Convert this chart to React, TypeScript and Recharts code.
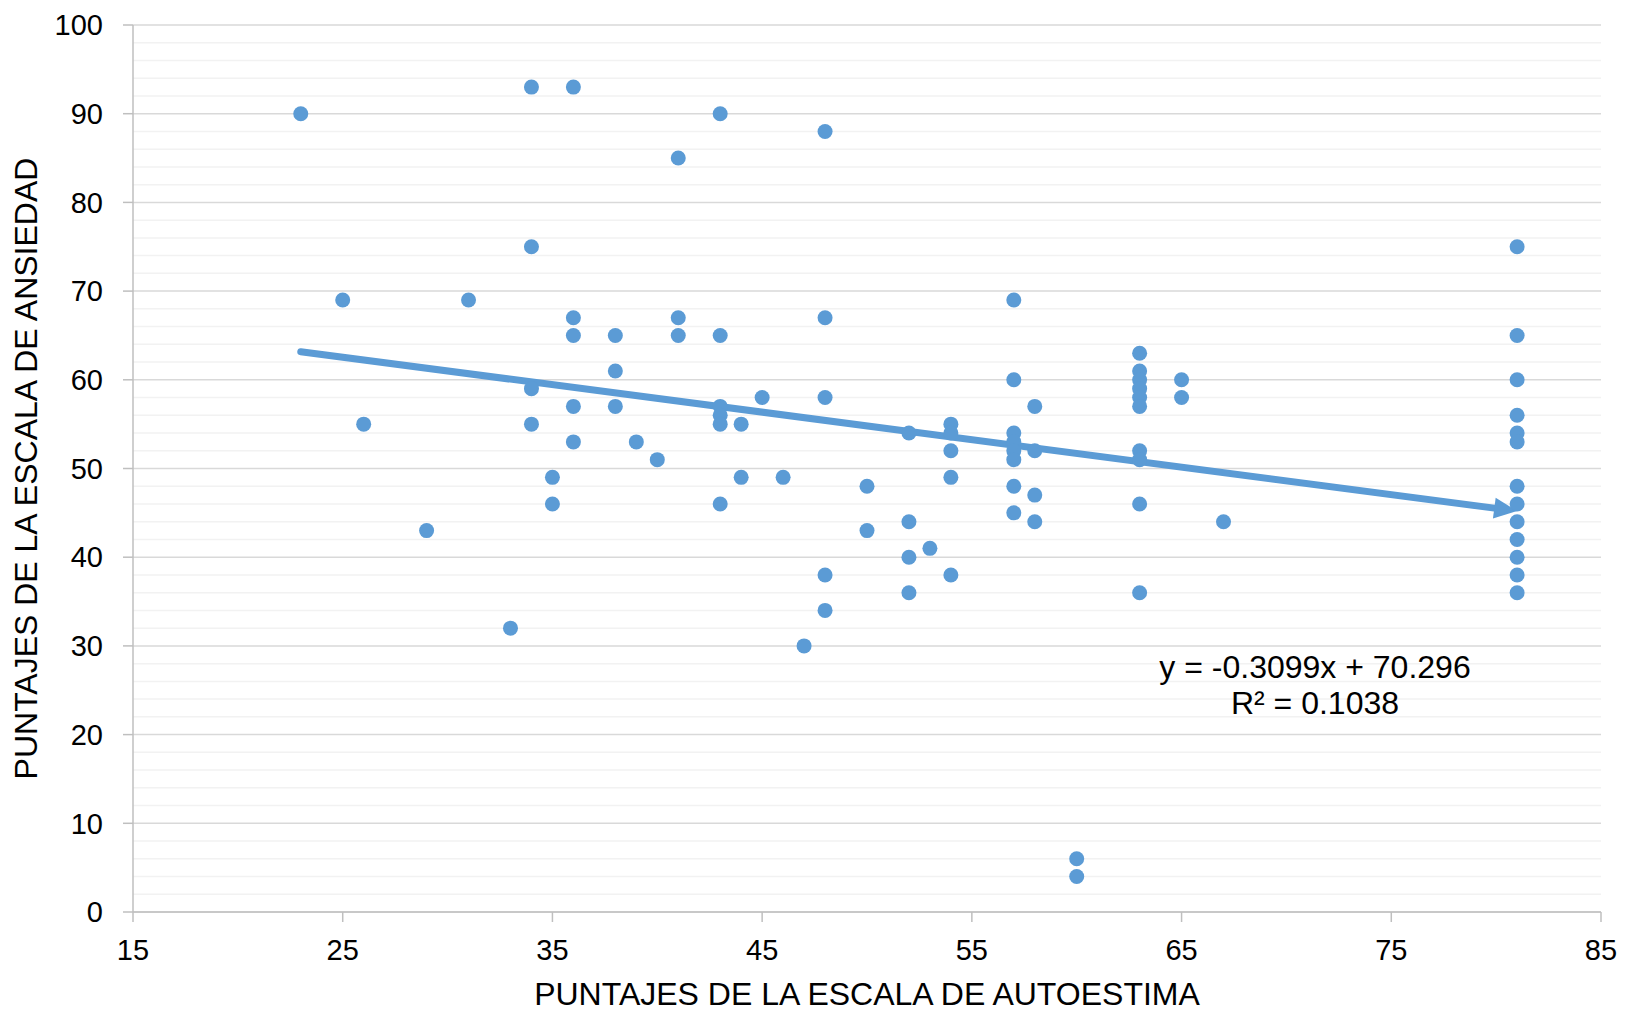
import {
  CartesianGrid,
  ReferenceLine,
  Scatter,
  ScatterChart,
  XAxis,
  YAxis,
} from "recharts";

// puntajes de autoestima (x) y ansiedad (y)
const autoestima = [
  23, 25, 26, 29, 31, 33, 34, 34, 34, 34, 35, 35, 36, 36, 36, 36, 36, 38, 38, 38,
  39, 40, 41, 41, 41, 43, 43, 43, 43, 43, 43, 44, 44, 45, 46, 47, 48, 48, 48, 48,
  48, 50, 50, 52, 52, 52, 52, 53, 54, 54, 54, 54, 54, 57, 57, 57, 57, 57, 57, 57,
  57, 58, 58, 58, 58, 60, 60, 63, 63, 63, 63, 63, 63, 63, 63, 63, 63, 65, 65, 67,
  81, 81, 81, 81, 81, 81, 81, 81, 81, 81, 81, 81, 81,
];
const ansiedad = [
  90, 69, 55, 43, 69, 32, 93, 75, 59, 55, 49, 46, 93, 67, 65, 57, 53, 65, 61, 57,
  53, 51, 85, 67, 65, 90, 65, 57, 56, 55, 46, 55, 49, 58, 49, 30, 88, 67, 58, 38,
  34, 48, 43, 54, 44, 40, 36, 41, 55, 54, 52, 49, 38, 69, 60, 54, 53, 52, 51, 48,
  45, 57, 52, 47, 44, 6, 4, 63, 61, 60, 59, 58, 57, 52, 51, 46, 36, 60, 58, 44,
  75, 65, 60, 56, 54, 53, 48, 46, 44, 42, 40, 38, 36,
];

// linear trend (y = -0.3099x + 70.296), ends as drawn
const trendX = [23, 81];
const trendY = [63.17, 45.2];

const xTicks = [15, 25, 35, 45, 55, 65, 75, 85];
const yTicks = [0, 10, 20, 30, 40, 50, 60, 70, 80, 90, 100];
const yMinor = [
  2, 4, 6, 8, 12, 14, 16, 18, 22, 24, 26, 28, 32, 34, 36, 38, 42, 44, 46, 48, 52,
  54, 56, 58, 62, 64, 66, 68, 72, 74, 76, 78, 82, 84, 86, 88, 92, 94, 96, 98,
];

const equation = "y = -0.3099x + 70.296";
const rSquared = "R² = 0.1038";

const points = autoestima.map((x, i) => ({ x, y: ansiedad[i] }));

const BLUE = "#5b9bd5";
const FONT = '"Liberation Sans", Arial, sans-serif';

function Dot(props: any) {
  return <circle cx={props.cx} cy={props.cy} r={7.5} fill={BLUE} />;
}

function TrendArrow(props: any) {
  const { x1, y1, x2, y2 } = props;
  if ([x1, y1, x2, y2].some((v) => v == null || isNaN(v))) return null;
  const dx = x2 - x1;
  const dy = y2 - y1;
  const len = Math.sqrt(dx * dx + dy * dy);
  const ux = dx / len;
  const uy = dy / len;
  const head = 23;
  const half = 10.5;
  const bx = x2 - ux * head;
  const by = y2 - uy * head;
  return (
    <g>
      <line
        x1={x1}
        y1={y1}
        x2={bx + ux * 2}
        y2={by + uy * 2}
        stroke={BLUE}
        strokeWidth={7}
        strokeLinecap="round"
      />
      <polygon
        points={`${x2},${y2} ${bx - uy * half},${by + ux * half} ${bx + uy * half},${by - ux * half}`}
        fill={BLUE}
      />
    </g>
  );
}

function XTitle(props: any) {
  const vb = props.viewBox || {};
  return (
    <text
      x={vb.x + vb.width / 2}
      y={1005}
      textAnchor="middle"
      fontFamily={FONT}
      fontSize={32}
      fill="#000"
    >
      PUNTAJES DE LA ESCALA DE AUTOESTIMA
    </text>
  );
}

function YTitle(props: any) {
  const vb = props.viewBox || {};
  const cy = vb.y + vb.height / 2;
  const cx = 37;
  return (
    <text
      x={cx}
      y={cy}
      transform={`rotate(-90, ${cx}, ${cy})`}
      textAnchor="middle"
      fontFamily={FONT}
      fontSize={32}
      fill="#000"
    >
      PUNTAJES DE LA ESCALA DE ANSIEDAD
    </text>
  );
}

export default function App() {
  return (
    <div
      style={{
        position: "absolute",
        left: 0,
        top: 0,
        width: 1625,
        height: 1013,
        background: "#fff",
        fontFamily: FONT,
      }}
    >
      <ScatterChart
        width={1625}
        height={1013}
        margin={{ top: 25, right: 24, bottom: 0, left: 0 }}
      >
        <CartesianGrid
          vertical={false}
          horizontalValues={yMinor}
          stroke="#f2f2f2"
          strokeWidth={1.5}
        />
        <CartesianGrid
          vertical={false}
          horizontalValues={yTicks}
          stroke="#d9d9d9"
          strokeWidth={1.5}
        />
        <XAxis
          type="number"
          dataKey="x"
          domain={[15, 85]}
          ticks={xTicks}
          interval={0}
          height={101}
          tickSize={10}
          tickMargin={17}
          axisLine={{ stroke: "#bfbfbf", strokeWidth: 1.5 }}
          tickLine={{ stroke: "#bfbfbf", strokeWidth: 1.5 }}
          tick={{ fill: "#000", fontSize: 29, fontFamily: FONT }}
          label={{ content: <XTitle /> }}
        />
        <YAxis
          type="number"
          dataKey="y"
          domain={[0, 100]}
          ticks={yTicks}
          interval={0}
          width={133}
          tickSize={10}
          tickMargin={20}
          axisLine={{ stroke: "#bfbfbf", strokeWidth: 1.5 }}
          tickLine={{ stroke: "#bfbfbf", strokeWidth: 1.5 }}
          tick={{ fill: "#000", fontSize: 29, fontFamily: FONT }}
          label={{ content: <YTitle /> }}
        />
        <Scatter
          data={points}
          fill={BLUE}
          shape={<Dot />}
          isAnimationActive={false}
        />
        <ReferenceLine
          segment={[
            { x: trendX[0], y: trendY[0] },
            { x: trendX[1], y: trendY[1] },
          ]}
          shape={(p: any) => <TrendArrow {...p} />}
          ifOverflow="visible"
        />
      </ScatterChart>
      <div
        style={{
          position: "absolute",
          left: 1115,
          top: 649,
          width: 400,
          textAlign: "center",
          fontSize: 32,
          lineHeight: "36px",
          color: "#000",
        }}
      >
        <div>{equation}</div>
        <div>{rSquared}</div>
      </div>
    </div>
  );
}
